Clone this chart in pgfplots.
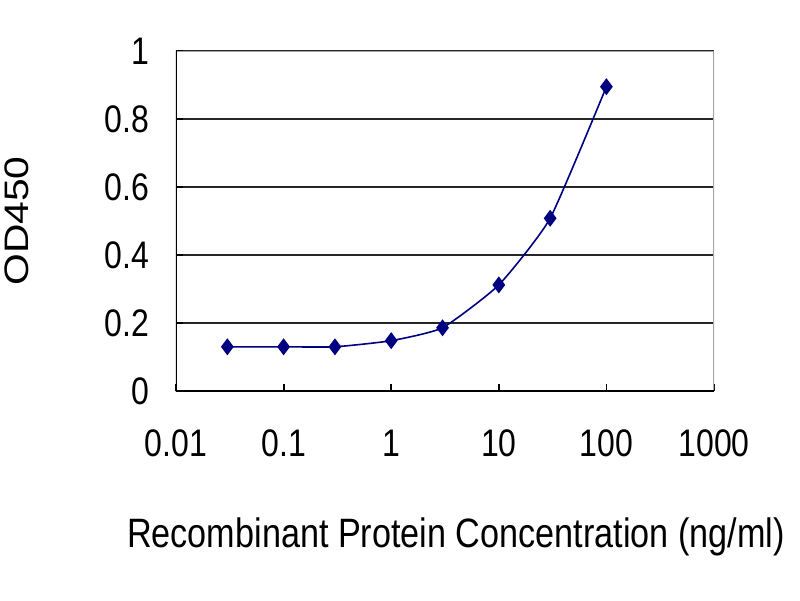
\documentclass[border=0pt]{standalone}
\usepackage{fontspec}
\setmainfont{Liberation Sans}
\usepackage{graphicx}
\usepackage{pgfplots}
\pgfplotsset{compat=1.18}
% the text in the reference is stretched vertically
\newcommand{\st}[1]{\scalebox{1}[1.2]{#1}}
\definecolor{navyline}{RGB}{0,0,128}

\begin{document}
\begin{tikzpicture}
\begin{axis}[
  name=main,
  scale only axis,
  width=269pt, height=170pt,
  xmode=log,
  xmin=0.01, xmax=1000,
  ymin=0, ymax=1,
  xtick={0.01,0.1,1,10,100,1000},
  xticklabels={\st{0.01},\st{0.1},\st{1},\st{10},\st{100},\st{1000}},
  xminorticks=false,
  ytick={0,0.2,0.4,0.6,0.8,1},
  yticklabels={\st{0},\st{0.2},\st{0.4},\st{0.6},\st{0.8},\st{1}},
  xtick pos=bottom, ytick pos=left,
  tick align=inside,
  major tick length=3.5pt,
  tick style={black, line width=0.9pt},
  ymajorgrids,
  grid style={black!85, line width=1.2pt},
  axis line style={draw=none},
  ticklabel style={font=\fontsize{16}{18}\selectfont},
  xticklabel style={yshift=-16pt},
  yticklabel style={xshift=-10pt},
  xlabel={\st{Recombinant Protein Concentration (ng/ml)}},
  xlabel style={at={(axis description cs:-0.104,0)}, anchor=west, yshift=-73pt,
    font=\fontsize{17.1}{19}\selectfont},
  ylabel={\scalebox{1.2}[1]{OD450}},
  ylabel style={at={(axis description cs:-0.2955,0.5)}, anchor=center,
    font=\fontsize{17}{19}\selectfont},
]
\addplot[navyline, line width=0.8pt, smooth, tension=0.3,
  mark=diamond*, mark size=3.6pt, mark options={fill=navyline, draw=navyline}]
  coordinates {(0.03,0.13) (0.1,0.13) (0.3,0.13) (1,0.148) (3,0.186) (10,0.312) (30,0.508) (100,0.895)};
\draw[black!35, line width=1pt] (rel axis cs:0,1) -- (rel axis cs:1,1) -- (rel axis cs:1,0);
\draw[black, line width=1.1pt] (rel axis cs:0,1) -- (rel axis cs:0,0) -- (rel axis cs:1,0);
\end{axis}
\pgfresetboundingbox
\path ([xshift=-88pt,yshift=-104.5pt]main.south west) rectangle ([xshift=43pt,yshift=25.5pt]main.north east);
\end{tikzpicture}
\end{document}
